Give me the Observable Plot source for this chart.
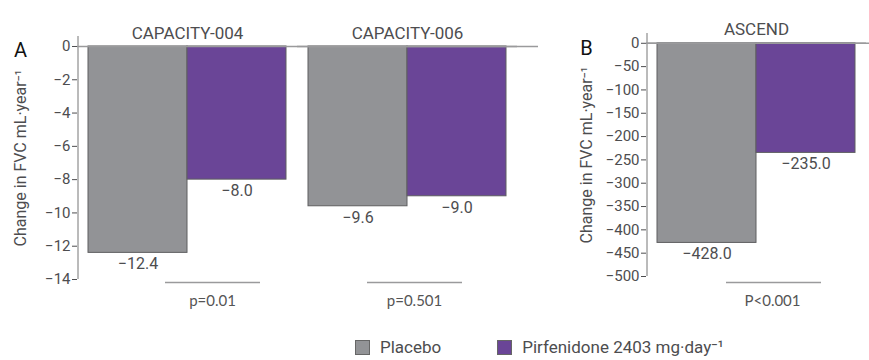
<!DOCTYPE html>
<html>
<head>
<meta charset="utf-8">
<script src="https://cdn.jsdelivr.net/npm/d3@7"></script>
<script src="https://cdn.jsdelivr.net/npm/@observablehq/plot@0.6"></script>
<style>
  html, body { margin: 0; padding: 0; background: #fff; }
  #wrap { position: relative; width: 869px; height: 360px; font-family: Roboto, "DejaVu Sans", sans-serif; color: #4d4d4f; overflow: hidden; }
  #panelA { position: absolute; left: 0; top: 0; }
  #panelB { position: absolute; left: 560px; top: 0; }
  #legend { position: absolute; left: 355px; top: 337px; display: flex; align-items: center; font-size: 17px; line-height: 21px; color: #4d4d4f; white-space: nowrap; }
  .sw { display: inline-block; width: 13px; height: 13px; border: 1px solid #666; margin-right: 10px; }
  .item { display: flex; align-items: center; margin-right: 56px; }
</style>
</head>
<body>
<div id="wrap">
  <div id="panelA"></div>
  <div id="panelB"></div>
  <div id="legend"></div>
</div>
<script>
// ---- data ----
const groups = ["Placebo", "Pirfenidone 2403 mg·day⁻¹"];
const colors = ["#929396", "#6a4597"];
const studiesA = ["CAPACITY-004", "CAPACITY-006"];
const placeboA = [-12.4, -9.6];
const pirfenidoneA = [-8.0, -9.0];
const pValuesA = ["p=0.01", "p=0.501"];
const studiesB = ["ASCEND"];
const placeboB = [-428.0];
const pirfenidoneB = [-235.0];
const pValuesB = ["P<0.001"];
const yTicksA = [0, -2, -4, -6, -8, -10, -12, -14];
const yTicksB = [0, -50, -100, -150, -200, -250, -300, -350, -400, -450, -500];
const yLabel = "Change in FVC mL·year⁻¹";
const panelLetters = ["A", "B"];

const textColor = "#4d4d4f";
const lineColor = "#9a9a9c";
const fmt = d3.format(".1f");

function rowsFor(studies, plc, pirf) {
  const rows = [];
  studies.forEach((s, i) => {
    rows.push({study: s, group: groups[0], value: plc[i]});
    rows.push({study: s, group: groups[1], value: pirf[i]});
  });
  return rows;
}

function panel({studies, plc, pirf, pvals, ticks, domain, width, marginLeft, marginRight, marginTop, marginBottom, letter, letterDx, letterDy, labelDx, titleDy, baseExtend, pOpts}) {
  const rows = rowsFor(studies, plc, pirf);
  const first = [{study: studies[0]}];
  const last = [{study: studies[studies.length - 1]}];
  const marks = [
    Plot.axisFx({anchor: "top", tickSize: 0, tickPadding: 6, dy: titleDy, label: null, fontSize: 17, fill: textColor}),
    Plot.axisY({ticks, tickSize: 5, tickPadding: 2, label: null, fontSize: 15, color: textColor, tickFormat: d3.format("")}),
    // vertical axis line, placed at the left edge of the first facet
    Plot.ruleX(first, {fx: "study", x: () => groups[0], dx: -60, y1: () => domain[0], y2: () => domain[1], stroke: "#777", strokeWidth: 1}),
    Plot.barY(rows, {fx: "study", x: "group", y: "value", fill: "group", stroke: "#5e5e60", strokeWidth: 1}),
    Plot.ruleY([0], {stroke: lineColor, strokeWidth: 1.5}),
    Plot.ruleY(last, {fx: "study", y: () => 0, insetRight: -baseExtend, stroke: lineColor, strokeWidth: 1.5}),
    Plot.text(rows, {fx: "study", x: "group", y: "value", text: d => fmt(d.value), lineAnchor: "top", dy: 5, fontSize: 16, fill: textColor}),
    Plot.text(first, {fx: "study", text: () => yLabel, frameAnchor: "left", textAnchor: "middle", rotate: -90, dx: labelDx, fontSize: 16, fill: textColor}),
    Plot.text(first, {fx: "study", text: () => letter, frameAnchor: "top-left", textAnchor: "middle", dx: letterDx, dy: letterDy, fontSize: 20, fill: "#111", lineAnchor: "middle"})
  ];
  studies.forEach((s, i) => {
    const o = pOpts[i];
    marks.push(Plot.ruleY([{study: s}], {fx: "study", y: () => domain[0], dy: o.ruleDy, insetLeft: o.insetLeft, insetRight: o.insetRight, stroke: lineColor, strokeWidth: 1.5}));
    marks.push(Plot.text([{study: s, p: pvals[i]}], {fx: "study", text: "p", frameAnchor: "bottom", dx: o.dx, dy: o.textDy, lineAnchor: "middle", fontSize: 15, fontFamily: "Lato, 'Open Sans', sans-serif", fill: "#555"}));
  });
  return Plot.plot({
    width, height: 320, marginLeft, marginRight, marginTop, marginBottom,
    style: {fontFamily: "Roboto, 'DejaVu Sans', sans-serif", background: "transparent", color: textColor},
    fx: {domain: studies, padding: 0},
    x: {domain: groups, padding: 0, paddingOuter: 0.1, axis: null},
    y: {domain},
    color: {domain: groups, range: colors},
    marks
  });
}

const plotA = panel({
  studies: studiesA, plc: placeboA, pirf: pirfenidoneA, pvals: pValuesA,
  ticks: yTicksA, domain: [-14, 0.6], width: 545, marginLeft: 77, marginRight: 28, marginTop: 36, marginBottom: 41,
  letter: panelLetters[0], letterDx: -57, letterDy: 14, labelDx: -57, titleDy: 8, baseExtend: 21,
  pOpts: [
    {dx: 25, textDy: 22, ruleDy: 3, insetLeft: 88, insetRight: 37},
    {dx: 7, textDy: 22, ruleDy: 3, insetLeft: 70, insetRight: 55}
  ]
});
const plotB = panel({
  studies: studiesB, plc: placeboB, pirf: pirfenidoneB, pvals: pValuesB,
  ticks: yTicksB, domain: [-500, 21], width: 309, marginLeft: 86, marginRight: 3, marginTop: 33, marginBottom: 44,
  letter: panelLetters[1], letterDx: -60, letterDy: 15, labelDx: -60, titleDy: 7, baseExtend: 3,
  pOpts: [
    {dx: 16, textDy: 25, ruleDy: 6, insetLeft: 80, insetRight: 45}
  ]
});
document.getElementById("panelA").appendChild(plotA);
document.getElementById("panelB").appendChild(plotB);

const legend = document.getElementById("legend");
groups.forEach((g, i) => {
  const it = document.createElement("div");
  it.className = "item";
  const sw = document.createElement("span");
  sw.className = "sw";
  sw.style.background = colors[i];
  const t = document.createElement("span");
  t.textContent = g;
  it.appendChild(sw); it.appendChild(t);
  legend.appendChild(it);
});
</script>
</body>
</html>
